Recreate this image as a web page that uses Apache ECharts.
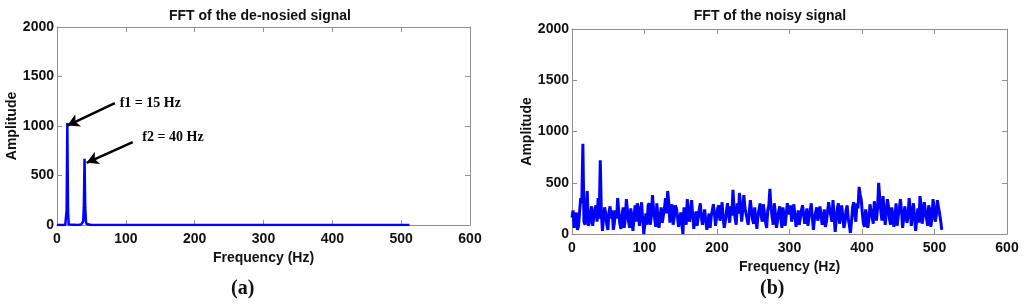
<!DOCTYPE html>
<html>
<head>
<meta charset="utf-8">
<script src="https://cdn.jsdelivr.net/npm/echarts@6/dist/echarts.min.js"></script>
<style>
  html, body { margin: 0; padding: 0; background: #fff; }
  #main { width: 1024px; height: 305px; }
</style>
</head>
<body>
<div id="main"></div>
<script>
// tick labels
var freqTicks = [0, 100, 200, 300, 400, 500, 600];
var ampTicks = [0, 500, 1000, 1500, 2000];

// (a) de-noised spectrum: [Hz, amplitude]
var denoisedFreq = [0, 12, 13, 14, 15, 16, 17, 18, 30, 35, 37, 38, 39, 40, 41, 42, 43, 45, 50, 512];
var denoisedAmp  = [0, 0, 4, 150, 1030, 150, 4, 1, 1, 4, 10, 35, 180, 670, 180, 35, 10, 3, 0, 0];

// (b) noisy spectrum, one value every 3 Hz from 0 to 510
var noisyStep = 3;
var noisyAmp = [
  160, 60, 210, 80, 350, 880, 90, 420, 110, 270,
  160, 280, 350, 720, 30, 260, 90, 210, 150, 40,
  230, 350, 100, 180, 60, 340, 120, 250, 30, 280,
  300, 80, 310, 0, 200, 280, 90, 380, 150, 300,
  60, 260, 180, 350, 420, 110, 290, 160, 250, 70,
  210, 0, 180, 340, 120, 330, 50, 220, 150, 300,
  90, 240, 40, 200, 170, 290, 80, 250, 130, 310,
  60, 220, 180, 270, 430, 150, 300, 400, 120, 380,
  200, 90, 330, 140, 260, 50, 240, 170, 290, 110,
  230, 440, 170, 300, 60, 220, 150, 260, 80, 300,
  190, 120, 290, 70, 230, 160, 280, 100, 250, 170,
  300, 40, 210, 130, 270, 90, 240, 120, 310, 180,
  330, 20, 250, 100, 280, 60, 230, 150, 10, 260,
  190, 300, 460, 330, 100, 240, 60, 290, 170, 320,
  130, 500, 220, 370, 90, 340, 140, 260, 70, 300,
  180, 340, 60, 270, 110, 350, 80, 300, 30, 250,
  370, 100, 310, 150, 280, 70, 340, 120, 330, 200,
  40
];
// values half-way between the bins above (at 3*i + 1.5 Hz)
var noisyAmpMid = [
  230, 120, 40, 220, 300, 120, 250, 80, 200, 80,
  240, 120, 150, 200, 160, 200, 40, 270, 230, 110,
  150, 220, 50, 260, 150, 230, 60, 180, 150, 120,
  250, 200, 140, 100, 90, 300, 180, 240, 70, 160,
  170, 110, 250, 200, 300, 220, 90, 280, 170, 140,
  100, 260, 90, 230, 210, 180, 150, 80, 240, 160,
  170, 130, 120, 60, 230, 200, 170, 280, 200, 150,
  130, 300, 110, 180, 260, 90, 200, 280, 230, 260,
  150, 210, 240, 100, 150, 180, 300, 120, 200, 60,
  280, 250, 90, 200, 130, 270, 60, 180, 190, 250,
  280, 210, 180, 140, 90, 230, 190, 170, 80, 230,
  160, 150, 260, 180, 190, 140, 70, 220, 240, 120,
  170, 140, 300, 180, 170, 110, 280, 90, 120, 310,
  120, 250, 380, 200, 70, 170, 140, 230, 100, 230,
  260, 350, 130, 240, 200, 270, 90, 180, 160, 80,
  250, 220, 150, 200, 170, 250, 190, 160, 140, 110,
  280, 180, 220, 80, 230, 160, 250, 180, 260, 130
];

var denoisedData = denoisedFreq.map(function (f, i) { return [f, denoisedAmp[i]]; });
var noisyData = [];
noisyAmp.forEach(function (v, i) {
    noisyData.push([i * noisyStep, v]);
    if (i < noisyAmpMid.length) noisyData.push([i * noisyStep + noisyStep / 2, noisyAmpMid[i]]);
});

var axisGray = '#8f8f8f';
var labelFont = { fontFamily: 'Liberation Sans', fontWeight: 'bold', fontSize: 14, color: '#111' };

function mainX(gridIndex, gap) {
    return {
        type: 'value', gridIndex: gridIndex, min: 0, max: 600, interval: 100,
        name: 'Frequency (Hz)', nameLocation: 'middle', nameGap: gap,
        nameTextStyle: { fontFamily: 'Liberation Sans', fontWeight: 'bold', fontSize: 14, color: '#111', verticalAlign: 'top' },
        axisLine: { show: true, lineStyle: { color: axisGray, width: 1 } },
        axisTick: { show: true, inside: true, length: 5, lineStyle: { color: axisGray } },
        axisLabel: Object.assign({ margin: 7, formatter: function (v) { return String(v); } }, labelFont),
        splitLine: { show: false }
    };
}
function mainY(gridIndex, gap) {
    return {
        type: 'value', gridIndex: gridIndex, min: 0, max: 2000, interval: 500,
        name: 'Amplitude', nameLocation: 'middle', nameGap: gap, nameRotate: 90,
        nameTextStyle: { fontFamily: 'Liberation Sans', fontWeight: 'bold', fontSize: 14, color: '#111' },
        axisLine: { show: true, lineStyle: { color: axisGray, width: 1 } },
        axisTick: { show: true, inside: true, length: 5, lineStyle: { color: axisGray } },
        axisLabel: Object.assign({ margin: 3, formatter: function (v) { return String(v); } }, labelFont),
        splitLine: { show: false }
    };
}
function boxX(gridIndex) {
    return {
        type: 'value', gridIndex: gridIndex, position: 'top', min: 0, max: 600, interval: 100,
        axisLine: { show: true, onZero: false, lineStyle: { color: axisGray, width: 1 } },
        axisTick: { show: true, inside: true, length: 5, lineStyle: { color: axisGray } },
        axisLabel: { show: false }, splitLine: { show: false }
    };
}
function boxY(gridIndex) {
    return {
        type: 'value', gridIndex: gridIndex, position: 'right', min: 0, max: 2000, interval: 500,
        axisLine: { show: true, onZero: false, lineStyle: { color: axisGray, width: 1 } },
        axisTick: { show: true, inside: true, length: 5, lineStyle: { color: axisGray } },
        axisLabel: { show: false }, splitLine: { show: false }
    };
}

var arrowLine = { color: '#000', width: 2.5, type: 'solid' };
var noteFont = { fontFamily: 'Liberation Serif', fontWeight: 'bold', fontSize: 14, color: '#000' };

var myChart = echarts.init(document.getElementById('main'), null, { renderer: 'canvas' });
var option = {
    animation: false,
    backgroundColor: '#fff',
    title: [
        { text: 'FFT of the de-nosied signal', left: 255, top: 4, textAlign: 'center',
          textStyle: { fontFamily: 'Liberation Sans', fontWeight: 'bold', fontSize: 14, color: '#111' } },
        { text: 'FFT of the noisy signal', left: 765, top: 4, textAlign: 'center',
          textStyle: { fontFamily: 'Liberation Sans', fontWeight: 'bold', fontSize: 14, color: '#111' } }
    ],
    grid: [
        { left: 57, right: 554, top: 27, bottom: 80 },
        { left: 572, right: 17, top: 29, bottom: 71 }
    ],
    xAxis: [mainX(0, 14), mainX(1, 16), boxX(0), boxX(1)],
    yAxis: [mainY(0, 31), mainY(1, 34), boxY(0), boxY(1)],
    series: [
        {
            type: 'line', xAxisIndex: 0, yAxisIndex: 0, data: denoisedData,
            showSymbol: false, symbol: 'none',
            lineStyle: { color: '#0000ff', width: 2.5 },
            markLine: {
                silent: true, symbol: ['none', 'arrow'], symbolSize: [10, 12],
                lineStyle: arrowLine, label: { show: false },
                data: [
                    [{ coord: [84, 1232] }, { coord: [15, 1005] }],
                    [{ coord: [110, 838] }, { coord: [43, 628] }]
                ]
            },
            markPoint: {
                silent: true, symbol: 'circle', symbolSize: 0,
                label: Object.assign({ show: true, position: 'right', distance: 0 }, noteFont),
                data: [
                    { coord: [91, 1225], value: 'f1 = 15 Hz', label: { formatter: 'f1 = 15 Hz' } },
                    { coord: [124, 884], value: 'f2 = 40 Hz', label: { formatter: 'f2 = 40 Hz' } }
                ]
            }
        },
        {
            type: 'line', xAxisIndex: 1, yAxisIndex: 1, data: noisyData,
            showSymbol: false, symbol: 'none',
            lineStyle: { color: '#0000ff', width: 3 }
        }
    ],
    graphic: [
        { type: 'text', left: 231, top: 279,
          style: { text: '(a)', fontFamily: 'Liberation Serif', fontWeight: 'bold', fontSize: 20, fill: '#111' } },
        { type: 'text', left: 760, top: 279,
          style: { text: '(b)', fontFamily: 'Liberation Serif', fontWeight: 'bold', fontSize: 20, fill: '#111' } }
    ]
};
myChart.setOption(option);
</script>
</body>
</html>
